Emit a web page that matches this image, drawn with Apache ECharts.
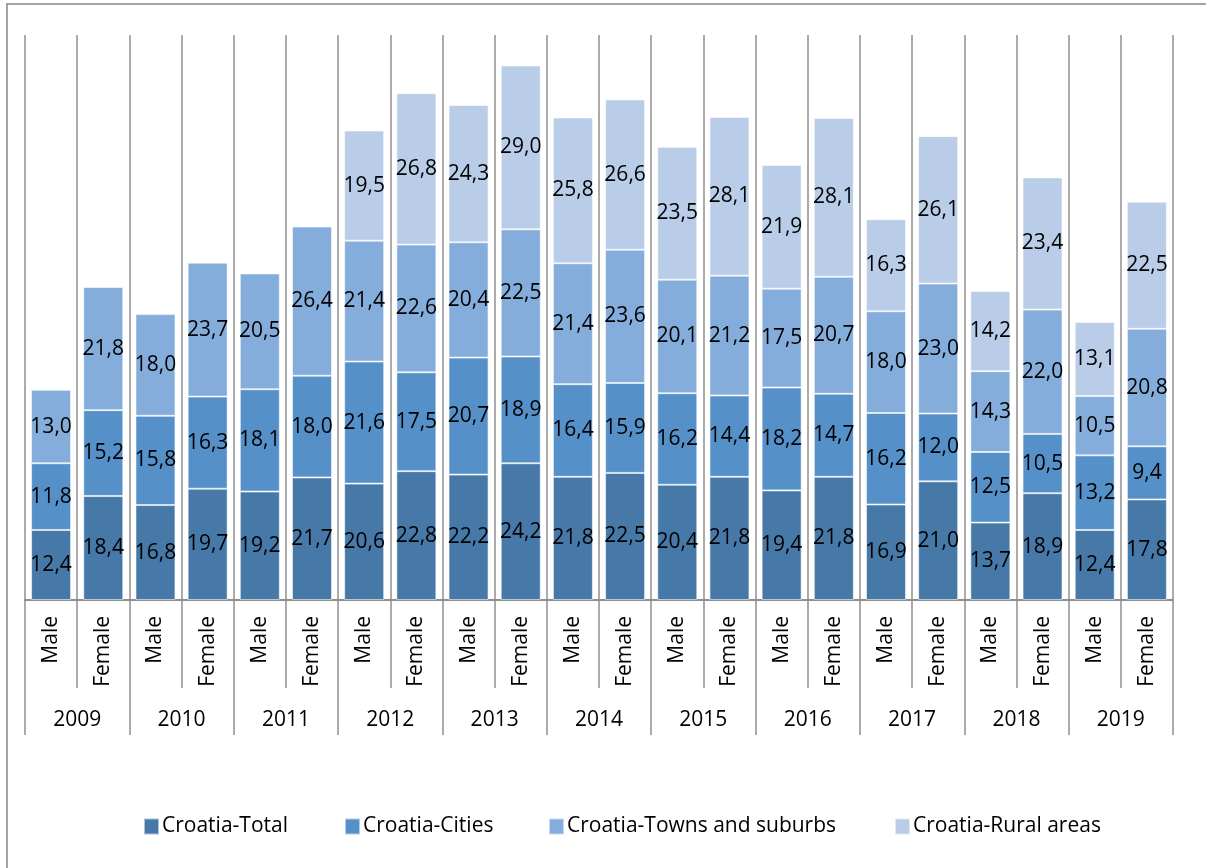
<!DOCTYPE html>
<html>
<head>
<meta charset="utf-8">
<script src="https://cdn.jsdelivr.net/npm/echarts@6/dist/echarts.min.js"></script>
<style>
  html, body { margin: 0; padding: 0; background: #fff; }
  #chart { width: 1206px; height: 868px; }
</style>
</head>
<body>
<div id="chart"></div>
<script>
// Years and sexes forming the two-level category axis
const years = ['2009', '2010', '2011', '2012', '2013', '2014', '2015', '2016', '2017', '2018', '2019'];
const sexes = ['Male', 'Female'];

// Series values, one entry per Male/Female bar, in year order
const total  = [12.4, 18.4, 16.8, 19.7, 19.2, 21.7, 20.6, 22.8, 22.2, 24.2, 21.8, 22.5, 20.4, 21.8, 19.4, 21.8, 16.9, 21.0, 13.7, 18.9, 12.4, 17.8];
const cities = [11.8, 15.2, 15.8, 16.3, 18.1, 18.0, 21.6, 17.5, 20.7, 18.9, 16.4, 15.9, 16.2, 14.4, 18.2, 14.7, 16.2, 12.0, 12.5, 10.5, 13.2, 9.4];
const towns  = [13.0, 21.8, 18.0, 23.7, 20.5, 26.4, 21.4, 22.6, 20.4, 22.5, 21.4, 23.6, 20.1, 21.2, 17.5, 20.7, 18.0, 23.0, 14.3, 22.0, 10.5, 20.8];
const rural  = [null, null, null, null, null, null, 19.5, 26.8, 24.3, 29.0, 25.8, 26.6, 23.5, 28.1, 21.9, 28.1, 16.3, 26.1, 14.2, 23.4, 13.1, 22.5];

const seriesNames = ['Croatia-Total', 'Croatia-Cities', 'Croatia-Towns and suburbs', 'Croatia-Rural areas'];
const seriesColors = ['#4779A8', '#5590C8', '#84ADDB', '#B9CDE8'];

const FONT = '"Open Sans", sans-serif';
const GRID_GRAY = '#8f8f8f';

const sexCategories = [];
years.forEach(y => sexes.forEach(s => sexCategories.push(s)));

const fmt = v => v == null ? '' : v.toFixed(1).replace('.', ',');

function barSeries(name, data, color) {
  return {
    name: name,
    type: 'bar',
    stack: 'all',
    xAxisIndex: 0,
    barWidth: 40,
    data: data,
    itemStyle: { color: color, borderColor: 'rgba(255,255,255,0.55)', borderWidth: 1 },
    label: {
      show: true,
      position: 'inside',
      color: '#000',
      fontFamily: FONT,
      fontSize: 21,
      formatter: p => fmt(p.value)
    },
    emphasis: { disabled: true }
  };
}

// One legend block per series so each entry sits at its own spot
const legendLefts = [138, 339, 543, 889];
const legends = seriesNames.map((name, i) => ({
  left: legendLefts[i],
  top: 811,
  itemWidth: 15,
  itemHeight: 16,
  icon: 'rect',
  selectedMode: false,
  textStyle: { fontFamily: FONT, fontSize: 21, color: '#000', padding: [0, 0, 0, -2] },
  data: [name]
}));

const chart = echarts.init(document.getElementById('chart'), null, { renderer: 'canvas' });
chart.setOption({
  animation: false,
  backgroundColor: '#fff',
  grid: { left: 25, right: 33, top: 35, bottom: 268, containLabel: false },
  legend: legends,
  xAxis: [
    {
      type: 'category',
      data: sexCategories,
      position: 'bottom',
      boundaryGap: true,
      axisLine: { show: true, lineStyle: { color: GRID_GRAY, width: 2 } },
      axisTick: { show: true, interval: 0, length: 88, lineStyle: { color: GRID_GRAY, width: 1.5 } },
      axisLabel: {
        interval: 0,
        rotate: 90,
        margin: 16,
        fontFamily: FONT,
        fontSize: 21,
        color: '#000'
      },
      splitLine: { show: true, interval: 0, lineStyle: { color: GRID_GRAY, width: 1.5 } }
    },
    {
      type: 'category',
      data: years,
      position: 'bottom',
      offset: 0,
      boundaryGap: true,
      axisLine: { show: false },
      axisTick: { show: true, interval: 0, length: 135, lineStyle: { color: GRID_GRAY, width: 1.5 } },
      axisLabel: {
        interval: 0,
        margin: 110,
        fontFamily: FONT,
        fontSize: 21,
        color: '#000'
      },
      splitLine: { show: false }
    }
  ],
  yAxis: {
    type: 'value',
    min: 0,
    max: 100,
    show: false,
    splitLine: { show: false }
  },
  series: [
    barSeries(seriesNames[0], total, seriesColors[0]),
    barSeries(seriesNames[1], cities, seriesColors[1]),
    barSeries(seriesNames[2], towns, seriesColors[2]),
    barSeries(seriesNames[3], rural, seriesColors[3])
  ],
  graphic: [
    {
      type: 'polyline',
      shape: { points: [[7, 880], [7, 4], [1210, 4]] },
      style: { stroke: '#a3a3a3', lineWidth: 2, fill: null },
      silent: true
    }
  ]
});
</script>
</body>
</html>
